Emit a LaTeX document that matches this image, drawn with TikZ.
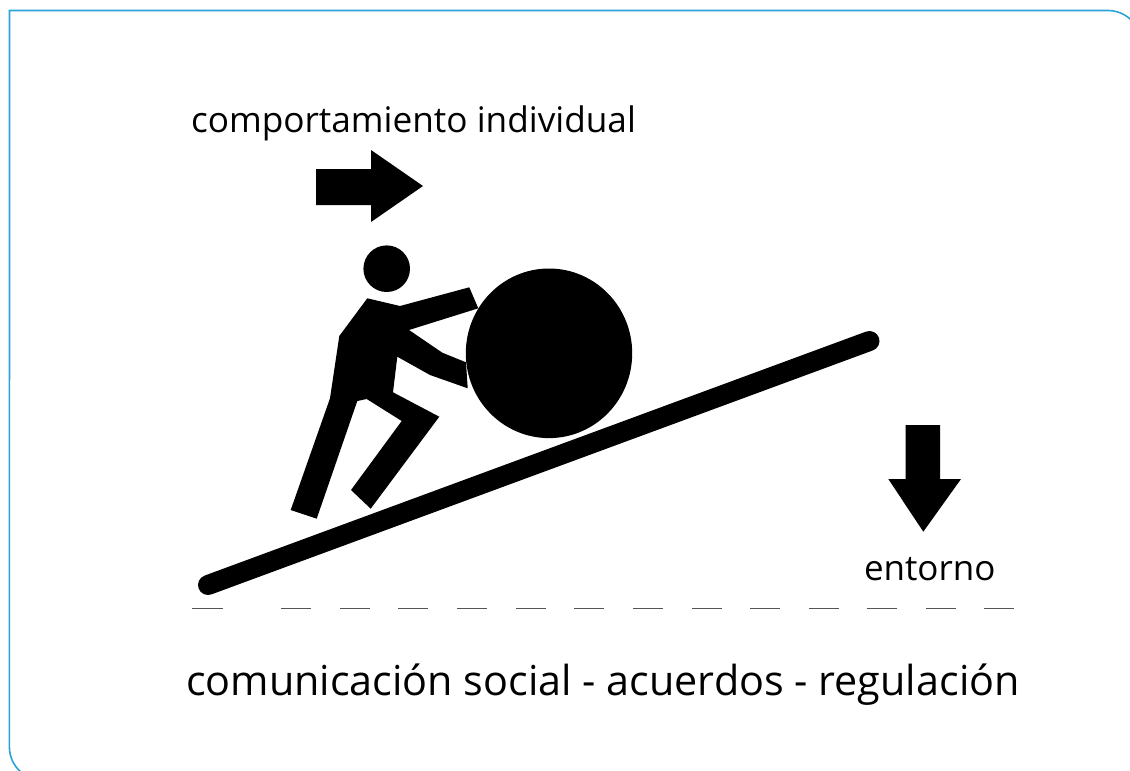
\documentclass[tikz,border=0pt]{standalone}
\usepackage{fontspec}
\setmainfont{Open Sans}
\definecolor{frameblue}{HTML}{2AA3D8}
\definecolor{dashgray}{HTML}{555555}
\tikzset{
  shape fill/.style={fill=black,draw=none},
  label text/.style={anchor=base west,inner sep=0pt,outer sep=0pt,text=black},
  dash seg/.style={draw=dashgray,line width=1pt}
}
\begin{document}
\begin{tikzpicture}[x=1pt,y=-1pt]
\useasboundingbox (0,0) rectangle (1130,771);
\begin{scope}
\clip (0,0) rectangle (1130,771);
\draw[frameblue,line width=1.6pt] (25.9,775.6) arc[start angle=120,end angle=180,radius=33] -- (9.5,10.5) -- (1108,10.5) arc[start angle=-90,end angle=-30,radius=33];
\end{scope}
% ramp
\draw[line width=20pt,line cap=round] (208,585) -- (869.5,341);
% ball and head
\fill[shape fill] (549,353.3) ellipse [x radius=83.2,y radius=84.8];
\fill[shape fill] (386.7,268.7) circle [radius=23.3];
% body
\fill[shape fill] (367.3,298.3) -- (400,306) -- (469.3,287.3) -- (478.3,308.3) -- (409,330) -- (442.3,352.7) -- (466,362.3) -- (467.7,388.3) -- (430,375) -- (397.3,356.7) -- (393,392.3) -- (439.3,416.7) -- (370.7,508.7) -- (351,490) -- (401.7,421) -- (366.7,399) -- (357.3,401) -- (316.7,518.7) -- (290.7,510) -- (330,398.3) -- (339.3,336) -- cycle;
% arrows
\fill[shape fill] (316,169) -- (371,169) -- (371,150) -- (423,186) -- (371,222) -- (371,205) -- (316,205) -- cycle;
\fill[shape fill] (905.7,425) -- (940,425) -- (940,479) -- (961,479) -- (923.3,531.7) -- (888.3,479) -- (905.7,479) -- cycle;
% dashes
\draw[dash seg] (192,608.5) -- (223,608.5);
\foreach \xx in {281,340,398,457,516,574,633,692,750,809,867,926,984}
  \draw[dash seg] (\xx,608.5) -- ({\xx+30},608.5);
% texts
\node[label text] (t1) at (191,132) {\fontsize{35.2}{42}\selectfont comportamiento individual};
\node[label text] (t2) at (864,580) {\fontsize{35}{42}\selectfont entorno};
\node[label text] (t3) at (186,695) {\fontsize{41.3}{50}\selectfont comunicación social - acuerdos - regulación};
\end{tikzpicture}
\end{document}
